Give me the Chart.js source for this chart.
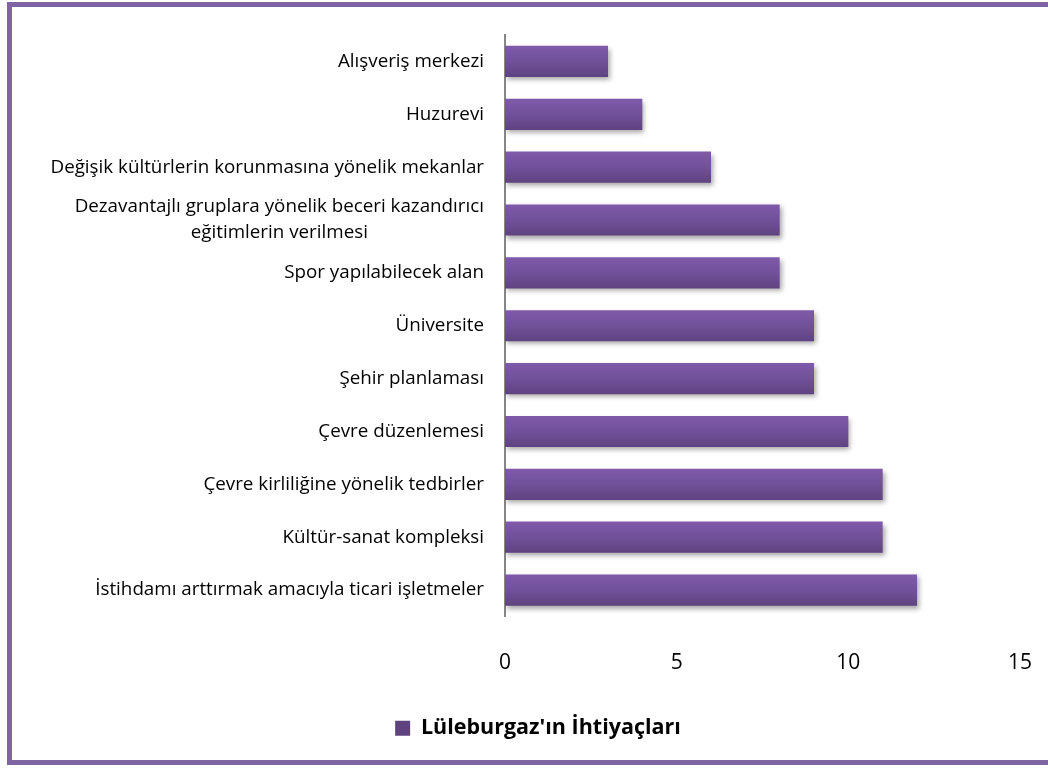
<!DOCTYPE html>
<html>
<head>
<meta charset="utf-8">
<script src="https://cdn.jsdelivr.net/npm/chart.js@4.4.1/dist/chart.umd.min.js"></script>
<style>
  html, body { margin: 0; padding: 0; background: #fff; overflow: hidden; }
  #frame {
    position: absolute; left: 7px; top: 2px;
    width: 1100px; height: 763px;
    border: 5px solid #8064a2; box-sizing: border-box;
  }
  #wrap { position: absolute; left: 0; top: 0; width: 1048px; height: 768px; }
</style>
</head>
<body>
<div id="frame"></div>
<div id="wrap"><canvas id="chart"></canvas></div>
<script>
// ===== data =====
const categories = [
  'Alışveriş merkezi',
  'Huzurevi',
  'Değişik kültürlerin korunmasına yönelik mekanlar',
  ['Dezavantajlı gruplara yönelik beceri kazandırıcı', 'eğitimlerin verilmesi'],
  'Spor yapılabilecek alan',
  'Üniversite',
  'Şehir planlaması',
  'Çevre düzenlemesi',
  'Çevre kirliliğine yönelik tedbirler',
  'Kültür-sanat kompleksi',
  'İstihdamı arttırmak amacıyla ticari işletmeler'
];
const values = [3, 4, 6, 8, 8, 9, 9, 10, 11, 11, 12];
const seriesName = "Lüleburgaz'ın İhtiyaçları";
const xTicks = [0, 5, 10, 15];

const FONT = '"Open Sans", Lato, sans-serif';

// ===== per-bar vertical gradient =====
function barFill(ctx) {
  const solid = '#7052a0';
  if (ctx.type !== 'data') return solid;
  const chart = ctx.chart;
  if (!chart.chartArea || !chart.scales.y) return solid;
  const y = chart.scales.y;
  const c = y.getPixelForValue(ctx.dataIndex);
  const half = (y.height / categories.length) * 0.59 / 2;
  const g = chart.ctx.createLinearGradient(0, c - half, 0, c + half);
  g.addColorStop(0, '#7f5aa9');
  g.addColorStop(0.5, '#71519a');
  g.addColorStop(1, '#5f437f');
  return g;
}

// ===== bar shadow =====
const shadowPlugin = {
  id: 'shadow',
  beforeDatasetsDraw(chart) {
    const c = chart.ctx;
    c.save();
    c.shadowColor = 'rgba(0,0,0,0.35)';
    c.shadowBlur = 5;
    c.shadowOffsetX = 2;
    c.shadowOffsetY = 3;
  },
  afterDatasetsDraw(chart) {
    chart.ctx.restore();
  }
};

// ===== category labels (multi-line centred inside block, block right aligned) =====
const labelPlugin = {
  id: 'catLabels',
  afterDraw(chart) {
    const c = chart.ctx;
    const y = chart.scales.y;
    const right = chart.chartArea.left - 21;
    const lineH = 26;
    c.save();
    c.font = '18.8px ' + FONT;
    c.fillStyle = '#000';
    c.textBaseline = 'middle';
    categories.forEach((lab, i) => {
      const lines = Array.isArray(lab) ? lab : [lab];
      const w = Math.max(...lines.map(l => c.measureText(l).width));
      const mid = y.getPixelForValue(i);
      const cx = right - w / 2;
      c.textAlign = 'center';
      lines.forEach((l, k) => {
        c.fillText(l, cx, mid + (k - (lines.length - 1) / 2) * lineH);
      });
    });
    c.restore();
  }
};

new Chart(document.getElementById('chart'), {
  type: 'bar',
  data: {
    labels: categories,
    datasets: [{
      label: seriesName,
      data: values,
      backgroundColor: barFill,
      borderWidth: 0,
      barPercentage: 0.59,
      categoryPercentage: 1.0
    }]
  },
  options: {
    indexAxis: 'y',
    responsive: true,
    maintainAspectRatio: false,
    animation: false,
    layout: { padding: { left: 56, right: 28, top: 35, bottom: 19 } },
    scales: {
      x: {
        min: 0, max: 15,
        afterBuildTicks: s => { s.ticks = xTicks.map(v => ({ value: v })); },
        grid: { display: false },
        border: { display: false },
        ticks: { color: '#000', font: { family: FONT, size: 21 }, padding: 26 },
        afterFit: s => { s.height = 91; s.paddingLeft = 0; s.paddingRight = 0; }
      },
      y: {
        grid: { display: false },
        border: { display: true, color: '#868686', width: 2 },
        ticks: { display: false },
        afterFit: s => { s.width = 449; }
      }
    },
    plugins: {
      legend: {
        position: 'bottom',
        labels: {
          color: '#000',
          boxWidth: 15, boxHeight: 15,
          font: { family: FONT, size: 21.5, weight: 'bold' }
        }
      },
      tooltip: { enabled: false }
    }
  },
  plugins: [shadowPlugin, labelPlugin]
});
</script>
</body>
</html>
